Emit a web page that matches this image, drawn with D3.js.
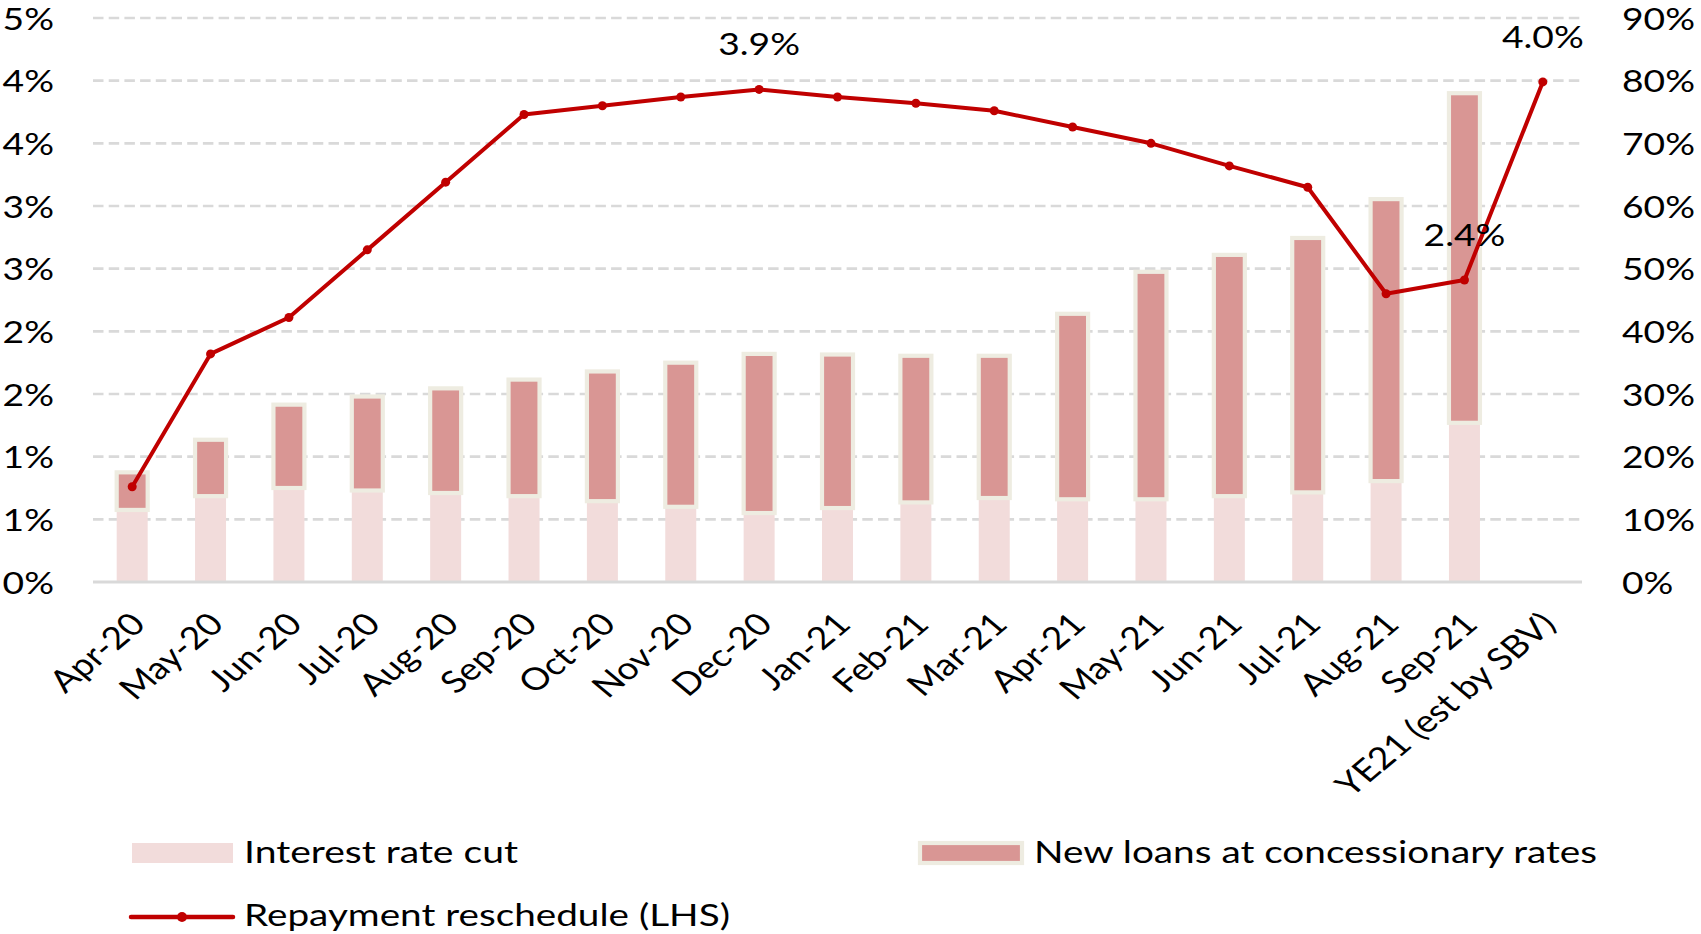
<!DOCTYPE html>
<html>
<head>
<meta charset="utf-8">
<script src="https://cdn.jsdelivr.net/npm/d3@7"></script>
<style>
  html, body { margin: 0; padding: 0; background: #ffffff; }
  svg { display: block; }
  text { font-family: Lato, "Open Sans", "Noto Sans", sans-serif; fill: #000; }
</style>
</head>
<body>
<svg id="chart" width="1701" height="934"></svg>
<script>
// ---------- data ----------
const categories = ["Apr-20","May-20","Jun-20","Jul-20","Aug-20","Sep-20","Oct-20","Nov-20","Dec-20",
  "Jan-21","Feb-21","Mar-21","Apr-21","May-21","Jun-21","Jul-21","Aug-21","Sep-21","YE21 (est by SBV)"];
// RHS, % of ...
const interestRateCut = [11.5,13.7,15.0,14.6,14.2,13.7,12.9,12.0,11.0,11.8,12.7,13.4,13.2,13.2,13.7,14.3,16.1,25.4,null];
const newLoans = [6.0,9.0,13.3,15.0,16.7,18.6,20.7,23.0,25.4,24.5,23.4,22.7,29.6,36.3,38.5,40.6,45.0,52.6,null];
// LHS, %
const repayment = [0.76,1.82,2.11,2.65,3.19,3.73,3.80,3.87,3.93,3.87,3.82,3.76,3.63,3.50,3.32,3.15,2.30,2.41,3.99];
const labelledPoints = ["Dec-20","Sep-21","YE21 (est by SBV)"];

const leftTicks = [0,0.5,1,1.5,2,2.5,3,3.5,4,4.5];
const leftTickLabels = ["0%","1%","1%","2%","2%","3%","3%","4%","4%","5%"];
const rightTicks = [0,10,20,30,40,50,60,70,80,90];
const rightTickLabels = ["0%","10%","20%","30%","40%","50%","60%","70%","80%","90%"];

const seriesNames = ["Interest rate cut","New loans at concessionary rates","Repayment reschedule (LHS)"];

// ---------- layout ----------
const svg = d3.select("#chart");
const L = 93, R = 1582, T = 18, B = 582;
const SX = 1.2;       // horizontal text stretch
const FS = 31;
const cLight = "#f2dcdb", cDark = "#d99694", cBorder = "#eeece1", cLine = "#c00000", cGrid = "#d9d9d9";

const pi = 1 - 31 / ((R - L) / categories.length);
const x = d3.scaleBand().domain(categories).range([L, R]).paddingInner(pi).paddingOuter(pi / 2);
const xc = d => x(d) + x.bandwidth() / 2;
const yL = d3.scaleLinear().domain([0, 4.5]).range([B, T]);
const yR = d3.scaleLinear().domain([0, 90]).range([B, T]);

// gridlines
const grid = svg.append("g");
grid.selectAll("line.g").data(leftTicks.filter(d => d > 0)).join("line")
  .attr("x1", L).attr("x2", R)
  .attr("y1", d => yL(d)).attr("y2", d => yL(d))
  .attr("stroke", cGrid).attr("stroke-width", 2.6).attr("stroke-dasharray", "10.5,5.2");

// left axis
const axL = svg.append("g").attr("transform", `translate(${L},0)`)
  .call(d3.axisLeft(yL).tickValues(leftTicks).tickFormat((d, i) => leftTickLabels[i]).tickSize(0));
axL.select(".domain").remove();
axL.selectAll("text")
  .attr("x", 0).attr("dy", null)
  .attr("transform", `translate(-39,11) scale(${SX},1)`)
  .attr("text-anchor", "end").style("font-size", FS + "px").style("font-family", null);

// right axis
const axR = svg.append("g").attr("transform", `translate(${R},0)`)
  .call(d3.axisRight(yR).tickValues(rightTicks).tickFormat((d, i) => rightTickLabels[i]).tickSize(0));
axR.select(".domain").remove();
axR.selectAll("text")
  .attr("x", 0).attr("dy", null)
  .attr("transform", `translate(40,11) scale(${SX},1)`)
  .attr("text-anchor", "start").style("font-size", FS + "px").style("font-family", null);

// bars
const rows = categories.map((c, i) => ({ c, cut: interestRateCut[i], loans: newLoans[i] }))
  .filter(d => d.cut != null);
svg.append("g").selectAll("rect").data(rows).join("rect")
  .attr("x", d => x(d.c)).attr("width", x.bandwidth())
  .attr("y", d => yR(d.cut)).attr("height", d => yR(0) - yR(d.cut))
  .attr("fill", cLight);
svg.append("g").selectAll("rect").data(rows).join("rect")
  .attr("x", d => x(d.c)).attr("width", x.bandwidth())
  .attr("y", d => yR(d.cut + d.loans)).attr("height", d => yR(d.cut) - yR(d.cut + d.loans))
  .attr("fill", cDark).attr("stroke", cBorder).attr("stroke-width", 4.2);

// x axis
const axB = svg.append("g").attr("transform", `translate(0,${B})`)
  .call(d3.axisBottom(x).tickSize(0));
axB.select(".domain").attr("stroke", cGrid).attr("stroke-width", 3)
  .attr("d", `M${L},0H${R}`);
axB.selectAll("text")
  .attr("x", 0).attr("y", 0).attr("dy", null)
  .attr("transform", `translate(15,44) scale(${SX},1) rotate(-45)`)
  .attr("text-anchor", "end").style("font-size", FS + "px").style("font-family", null);

// line
const pts = categories.map((c, i) => ({ c, v: repayment[i] }));
svg.append("path").datum(pts)
  .attr("fill", "none").attr("stroke", cLine).attr("stroke-width", 4)
  .attr("stroke-linejoin", "round")
  .attr("d", d3.line().x(d => xc(d.c)).y(d => yL(d.v)));
svg.append("g").selectAll("circle").data(pts).join("circle")
  .attr("cx", d => xc(d.c)).attr("cy", d => yL(d.v)).attr("r", 4.5).attr("fill", cLine);

// data labels
svg.append("g").selectAll("text").data(pts.filter(d => labelledPoints.includes(d.c))).join("text")
  .attr("transform", d => `translate(${xc(d.c)},${yL(d.v) - 34}) scale(${SX},1)`)
  .attr("text-anchor", "middle").style("font-size", FS + "px")
  .text(d => d3.format(".1f")(d.v) + "%");

// legend
const lg = svg.append("g");
lg.append("rect").attr("x", 132).attr("y", 843).attr("width", 101).attr("height", 20).attr("fill", cLight);
lg.append("text").attr("x", 244).attr("y", 863).style("font-size", FS + "px")
  .attr("textLength", 274).attr("lengthAdjust", "spacingAndGlyphs").text(seriesNames[0]);
lg.append("rect").attr("x", 920).attr("y", 843).attr("width", 102).attr("height", 20)
  .attr("fill", cDark).attr("stroke", cBorder).attr("stroke-width", 4.2);
lg.append("text").attr("x", 1034).attr("y", 863).style("font-size", FS + "px")
  .attr("textLength", 563).attr("lengthAdjust", "spacingAndGlyphs").text(seriesNames[1]);
lg.append("line").attr("x1", 131).attr("x2", 233).attr("y1", 917).attr("y2", 917)
  .attr("stroke", cLine).attr("stroke-width", 4.5).attr("stroke-linecap", "round");
lg.append("circle").attr("cx", 182).attr("cy", 917).attr("r", 5).attr("fill", cLine);
lg.append("text").attr("x", 244).attr("y", 926).style("font-size", FS + "px")
  .attr("textLength", 486).attr("lengthAdjust", "spacingAndGlyphs").text(seriesNames[2]);
</script>
</body>
</html>
